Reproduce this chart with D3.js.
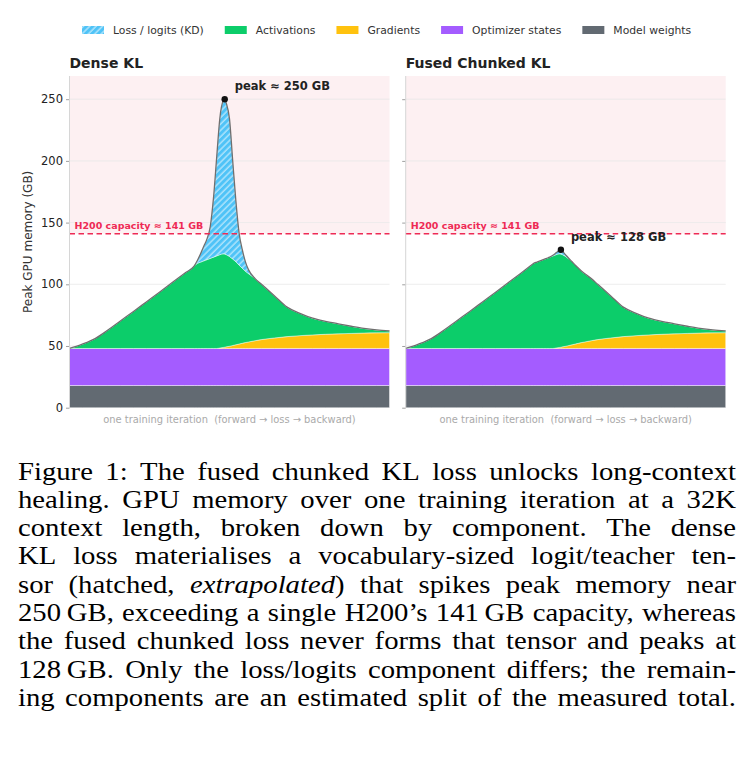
<!DOCTYPE html>
<html><head><meta charset="utf-8">
<script src="https://cdn.jsdelivr.net/npm/d3@7"></script>
<style>
html,body{margin:0;padding:0;background:#fff;}
svg{display:block;}
</style></head>
<body>
<svg id="chart" width="748" height="769"></svg>
<script>
// ---- data (GB), x = percent of one training iteration ----
const iteration = [0,4,8,12,16,20,24,28,32,36,39,40,41,42,43,44,45,46,47,48,48.5,49,50,51,52,53,54,55,56,58,60,64,68,72,76,80,84,88,92,96,100];
const modelWeights = [18,18,18,18,18,18,18,18,18,18,18,18,18,18,18,18,18,18,18,18,18,18,18,18,18,18,18,18,18,18,18,18,18,18,18,18,18,18,18,18,18];
const optimizerStates = [30,30,30,30,30,30,30,30,30,30,30,30,30,30,30,30,30,30,30,30,30,30,30,30,30,30,30,30,30,30,30,30,30,30,30,30,30,30,30,30,30];
const gradients = [0,0,0,0,0,0,0,0,0,0,0,0,0,0,0,0,0,0,0.4,0.8,1.0,1.3,1.8,2.4,3.0,3.6,4.2,4.8,5.3,6.3,7.2,8.5,9.6,10.4,11.0,11.5,11.9,12.2,12.5,12.7,12.8];
const activations = [0,3.5,8,14.9,22.5,30,37.7,45.4,53.2,61,67,69,70,71,72,73,74,75,75.6,75.9,75.5,74.7,72.7,70.1,67.3,63.9,60.8,57.7,55.2,50.3,44.8,34.3,23.9,18.1,13.5,10.5,8.1,5.8,3.7,2.3,1.5];
const lossDense = [0,0,0,0,0,0,0,0,0,0,0,2.5,7,12,17,26,48,80,111,123.8,125.4,122.6,111.5,79.5,49,26,15,7.5,3,0,0,0,0,0,0,0,0,0,0,0,0];
const lossFused = [0,0,0,0,0,0,0,0,0,0,0,0,0,0,0,0,0,0.5,1.5,2.8,3.5,2.8,1.2,0.4,0,0,0,0,0,0,0,0,0,0,0,0,0,0,0,0,0];

const panelTitles = ["Dense KL", "Fused Chunked KL"];
const peakLabels = ["peak \u2248 250 GB", "peak \u2248 128 GB"];
const yTicks = [0, 50, 100, 150, 200, 250];
const yMax = 268.8;
const capacity = 141;
const capacityLabel = "H200 capacity \u2248 141 GB";
const legendLabels = ["Loss / logits (KD)", "Activations", "Gradients", "Optimizer states", "Model weights"];
const xLabel = "one training iteration  (forward \u2192 loss \u2192 backward)";
const yLabel = "Peak GPU memory (GB)";
const captionLines = [
  "Figure 1: The fused chunked KL loss unlocks long-context",
  "healing. GPU memory over one training iteration at a 32K",
  "context length, broken down by component. The dense",
  "KL loss materialises a vocabulary-sized logit/teacher ten-",
  "sor (hatched, *extrapolated*) that spikes peak memory near",
  "250\u2009GB, exceeding a single H200\u2019s 141\u2009GB capacity, whereas",
  "the fused chunked loss never forms that tensor and peaks at",
  "128\u2009GB. Only the loss/logits component differs; the remain-",
  "ing components are an estimated split of the measured total."
];

// ---- styling ----
const keys = ["weights", "optimizer", "gradients", "activations", "loss"];
const colors = {loss: "#4fc3f7", activations: "#0ccd6a", gradients: "#ffc20e", optimizer: "#a45cff", weights: "#626a72"};
const legendKeys = ["loss", "activations", "gradients", "optimizer", "weights"];
const FONT = "'DejaVu Sans', sans-serif";

const svg = d3.select("#chart");
const defs = svg.append("defs");
const pat = defs.append("pattern").attr("id", "hatch").attr("patternUnits", "userSpaceOnUse")
  .attr("width", 4.5).attr("height", 4.5).attr("patternTransform", "rotate(45)");
pat.append("rect").attr("width", 4.5).attr("height", 4.5).attr("fill", colors.loss);
pat.append("line").attr("x1", 1).attr("y1", 0).attr("x2", 1).attr("y2", 4.5)
  .attr("stroke", "#fff").attr("stroke-width", 1).attr("stroke-opacity", 0.8);

const fillOf = k => k === "loss" ? "url(#hatch)" : colors[k];

// ---- legend ----
const legend = svg.append("g");
let lx = 82;
legendKeys.forEach((k, i) => {
  legend.append("rect").attr("x", lx).attr("y", 26).attr("width", 22).attr("height", 8).attr("fill", fillOf(k));
  const t = legend.append("text").attr("x", lx + 31).attr("y", 34).text(legendLabels[i])
    .style("font-family", FONT).style("font-size", "10.8px").attr("fill", "#333");
  lx += 31 + t.node().getComputedTextLength() + 21;
});

// ---- panels ----
const PW = 320, plotTop = 76, plotBottom = 407.7;
const y = d3.scaleLinear().domain([0, yMax]).range([plotBottom, plotTop]);
const panels = [{x0: 69.5, loss: lossDense}, {x0: 405.7, loss: lossFused}];

panels.forEach((p, pi) => {
  const x = d3.scaleLinear().domain([0, 100]).range([0, PW]);
  const g = svg.append("g").attr("transform", `translate(${p.x0},0)`);

  g.append("rect").attr("x", 0).attr("y", y(yMax)).attr("width", PW).attr("height", y(capacity) - y(yMax)).attr("fill", "#fdf0f2");

  g.selectAll(".grid").data(yTicks.filter(d => d > 0)).enter().append("line")
    .attr("x1", 0).attr("x2", PW).attr("y1", d => y(d)).attr("y2", d => y(d))
    .attr("stroke", "#e8e8e8").attr("stroke-width", 0.8);

  const rows = iteration.map((t, i) => ({t, weights: modelWeights[i], optimizer: optimizerStates[i], gradients: gradients[i], activations: activations[i], loss: p.loss[i]}));
  const series = d3.stack().keys(keys)(rows);
  const area = d3.area().x(d => x(d.data.t)).y0(d => y(d[0])).y1(d => y(d[1])).curve(d3.curveMonotoneX);
  g.selectAll(".area").data(series).enter().append("path")
    .attr("d", area).attr("fill", d => fillOf(d.key))
    .attr("stroke", "#fff").attr("stroke-opacity", 0.55).attr("stroke-width", 0.8);

  const line = d3.line().x(d => x(d.data.t)).y(d => y(d[1])).curve(d3.curveMonotoneX);
  g.append("path").attr("d", line(series[series.length - 1])).attr("fill", "none")
    .attr("stroke", "#6f6f6f").attr("stroke-width", 1.3);

  g.append("line").attr("x1", 0).attr("x2", PW).attr("y1", y(capacity)).attr("y2", y(capacity))
    .attr("stroke", "#ee2a55").attr("stroke-width", 1.4).attr("stroke-dasharray", "5.5,3.5");
  g.append("text").attr("x", 5).attr("y", y(capacity) - 5).text(capacityLabel)
    .style("font-family", FONT).style("font-size", "9.5px").style("font-weight", "bold").attr("fill", "#ee2a55");

  const last = series[series.length - 1];
  const peak = last.reduce((a, b) => b[1] > a[1] ? b : a);
  g.append("circle").attr("cx", x(peak.data.t)).attr("cy", y(peak[1])).attr("r", 3.2).attr("fill", "#111");
  g.append("text").attr("x", x(peak.data.t) + 10).attr("y", y(peak[1]) - 9).text(peakLabels[pi])
    .style("font-family", FONT).style("font-size", "11.5px").style("font-weight", "bold").attr("fill", "#222");

  const ax = g.append("g").call(d3.axisLeft(y).tickValues(yTicks).tickSize(3.5).tickPadding(3).tickFormat(pi === 0 ? d3.format("d") : () => ""));
  ax.select(".domain").remove();
  ax.selectAll(".tick line").attr("stroke", "#888").attr("stroke-width", 0.8);
  ax.selectAll(".tick text").style("font-family", FONT).style("font-size", "11.5px").attr("fill", "#222");
  g.append("line").attr("x1", 0).attr("x2", 0).attr("y1", plotTop).attr("y2", plotBottom).attr("stroke", "#d6d6d6").attr("stroke-width", 1);

  g.append("text").attr("x", 0).attr("y", 67.5).text(panelTitles[pi])
    .style("font-family", FONT).style("font-size", "14px").style("font-weight", "bold").attr("fill", "#222");

  g.append("text").attr("x", PW / 2).attr("y", 422.5).attr("text-anchor", "middle").text(xLabel)
    .style("font-family", FONT).style("font-size", "9.9px").style("white-space", "pre").attr("fill", "#aaa");
});

svg.append("text").attr("transform", `translate(31.5,${(plotTop + plotBottom) / 2}) rotate(-90)`).attr("text-anchor", "middle")
  .text(yLabel).style("font-family", FONT).style("font-size", "12px").attr("fill", "#333");

// ---- caption (justified) ----
const capX0 = 18, capX1 = 736, capY0 = 479.5, capDy = 28.3, capSize = 25.4, capSX = 1.13;
captionLines.forEach((ln, li) => {
  const words = ln.split(" ");
  const g = svg.append("g").attr("transform", `translate(${capX0},${capY0 + li * capDy}) scale(${capSX},1)`);
  const els = words.map(w => {
    const t = g.append("text").attr("y", 0)
      .style("font-family", "'Liberation Serif', 'Times New Roman', serif").style("font-size", capSize + "px").attr("fill", "#000");
    w.split("*").forEach((s, si) => { if (s) t.append("tspan").text(s).style("font-style", si % 2 === 1 ? "italic" : "normal"); });
    return t;
  });
  const widths = els.map(t => t.node().getComputedTextLength());
  const target = (capX1 - capX0) / capSX;
  const gap = (target - d3.sum(widths)) / (words.length - 1);
  let cx = 0;
  els.forEach((t, i) => { t.attr("x", cx); cx += widths[i] + gap; });
});
</script>
</body></html>
